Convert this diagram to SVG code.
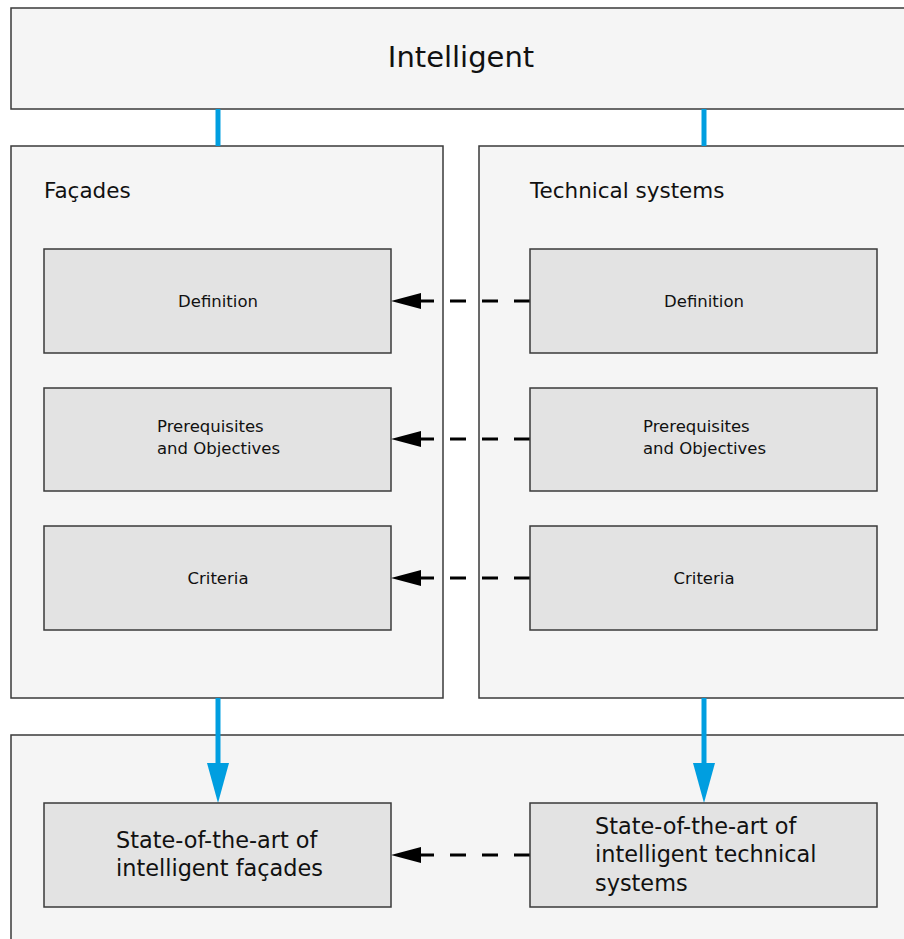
<svg xmlns="http://www.w3.org/2000/svg" width="904" height="939" viewBox="0 0 904 939">
<defs>
<style>
.panel{fill:#f5f5f5;stroke:#3a3a3a;stroke-width:1.5}
.box{fill:#e3e3e3;stroke:#3a3a3a;stroke-width:1.5}
text{font-family:"DejaVu Sans","Verdana",sans-serif;fill:#111}
.sm{font-size:16.5px}
.md{font-size:21.5px}
.lg{font-size:22.4px}
.blue{stroke:#009ee0;stroke-width:5;fill:none}
.dash{stroke:#000;stroke-width:3;stroke-dasharray:16 16;fill:none;marker-end:url(#ah)}
</style>
<marker id="ah" markerUnits="userSpaceOnUse" markerWidth="30" markerHeight="16" viewBox="0 0 30 16" refX="0" refY="8" orient="auto">
<path d="M0,0 L30,8 L0,16 z" fill="#000"/>
</marker>
<marker id="bh" markerUnits="userSpaceOnUse" markerWidth="40" markerHeight="22" viewBox="0 0 40 22" refX="0" refY="11" orient="auto">
<path d="M0,0 L40,11 L0,22 z" fill="#009ee0"/>
</marker>
</defs>

<g id="top">
<rect class="panel" x="11" y="8" width="905" height="101"/>
<text x="461" y="67" text-anchor="middle" style="font-size:29px">Intelligent</text>
</g>

<g id="facades">
<rect class="panel" x="11" y="146" width="432" height="552"/>
<text class="md" x="44" y="198">Façades</text>
</g>

<g id="technical">
<rect class="panel" x="479" y="146" width="437" height="552"/>
<text class="md" x="530" y="198">Technical systems</text>
</g>

<g id="bottom">
<rect class="panel" x="11" y="735" width="905" height="215"/>
</g>

<g id="connectors">
<line class="blue" x1="218" y1="109" x2="218" y2="146"/>
<line class="blue" x1="704" y1="109" x2="704" y2="146"/>
<line class="blue" x1="218" y1="698" x2="218" y2="763" marker-end="url(#bh)"/>
<line class="blue" x1="704" y1="698" x2="704" y2="763" marker-end="url(#bh)"/>
<line class="dash" x1="530" y1="301" x2="421" y2="301"/>
<line class="dash" x1="530" y1="439" x2="421" y2="439"/>
<line class="dash" x1="530" y1="578" x2="421" y2="578"/>
<line class="dash" x1="530" y1="855" x2="421" y2="855"/>
</g>

<g id="f-def">
<rect class="box" x="44" y="249" width="347" height="104"/>
<text class="sm" x="218" y="307" text-anchor="middle">Definition</text>
</g>
<g id="f-pre">
<rect class="box" x="44" y="388" width="347" height="103"/>
<text class="sm" x="157" y="432">Prerequisites</text>
<text class="sm" x="157" y="454">and Objectives</text>
</g>
<g id="f-crit">
<rect class="box" x="44" y="526" width="347" height="104"/>
<text class="sm" x="218" y="584" text-anchor="middle">Criteria</text>
</g>

<g id="t-def">
<rect class="box" x="530" y="249" width="347" height="104"/>
<text class="sm" x="704" y="307" text-anchor="middle">Definition</text>
</g>
<g id="t-pre">
<rect class="box" x="530" y="388" width="347" height="103"/>
<text class="sm" x="643" y="432">Prerequisites</text>
<text class="sm" x="643" y="454">and Objectives</text>
</g>
<g id="t-crit">
<rect class="box" x="530" y="526" width="347" height="104"/>
<text class="sm" x="704" y="584" text-anchor="middle">Criteria</text>
</g>

<g id="f-state">
<rect class="box" x="44" y="803" width="347" height="104"/>
<text class="lg" x="116" y="848">State-of-the-art of</text>
<text class="lg" x="116" y="876">intelligent façades</text>
</g>
<g id="t-state">
<rect class="box" x="530" y="803" width="347" height="104"/>
<text class="lg" x="595" y="834">State-of-the-art of</text>
<text class="lg" x="595" y="862">intelligent technical</text>
<text class="lg" x="595" y="891">systems</text>
</g>
</svg>
